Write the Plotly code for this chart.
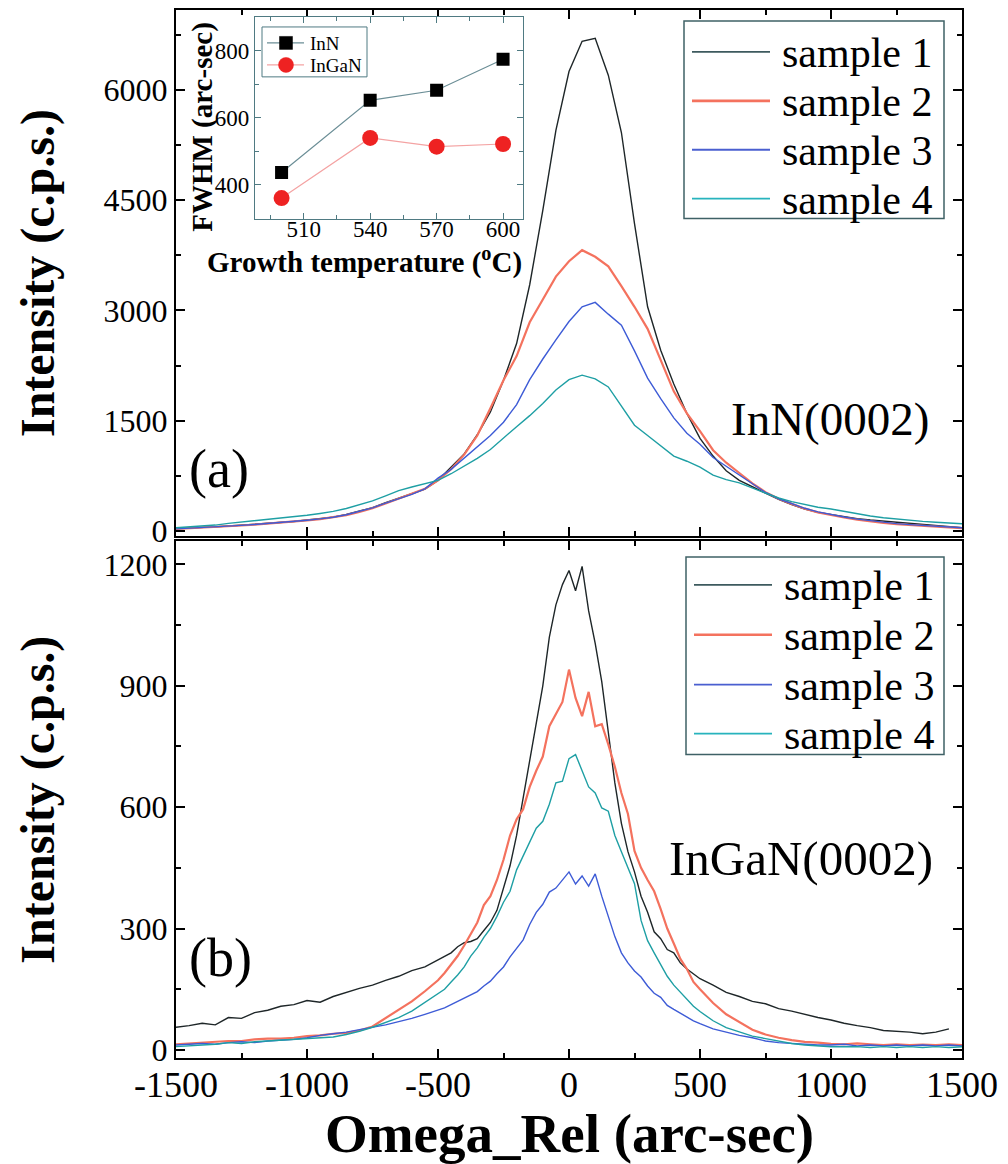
import plotly.graph_objects as go

SERIF = "Liberation Serif"

# ---------------- panel (a): InN(0002) ----------------
OMEGA_A = list(range(-1500, 1501, 50))
INN_S1 = [35, 40, 48, 58, 70, 80, 92, 105, 118, 130, 150, 168, 190, 225, 270, 320, 385, 445, 500, 570,
          690, 870, 1050, 1310, 1620, 2050, 2550, 3350, 4360, 5450, 6250, 6660, 6700, 6200, 5420, 4180,
          3050, 2460, 2000, 1600, 1260, 1020, 820, 690, 600, 510, 430, 360, 300, 255, 225, 195, 170, 150,
          135, 115, 100, 85, 70, 60, 45]
INN_S2 = [30, 38, 45, 55, 66, 76, 88, 100, 112, 126, 145, 162, 185, 218, 262, 312, 375, 440, 500, 575,
          690, 840, 1040, 1300, 1670, 2050, 2380, 2840, 3150, 3460, 3670, 3820, 3730, 3600, 3330, 3050,
          2750, 2320, 1900, 1600, 1360, 1100, 930, 790, 650, 530, 440, 370, 305, 255, 215, 185, 155, 130,
          112, 96, 82, 70, 60, 50, 40]
INN_S3 = [30, 38, 46, 56, 68, 78, 90, 102, 116, 130, 148, 166, 188, 222, 266, 316, 380, 442, 500, 575,
          720, 840, 990, 1150, 1300, 1480, 1720, 2060, 2340, 2600, 2850, 3050, 3110, 2950, 2800, 2450,
          2080, 1800, 1540, 1330, 1180, 1000, 880, 760, 640, 525, 440, 372, 310, 262, 225, 192, 162, 140,
          120, 102, 88, 76, 66, 56, 46]
INN_S4 = [45, 55, 68, 82, 105, 122, 140, 158, 178, 198, 215, 240, 268, 308, 360, 410, 480, 550, 600, 650,
          690, 780, 880, 990, 1110, 1270, 1420, 1570, 1735, 1920, 2060, 2120, 2070, 1960, 1700, 1440,
          1300, 1160, 1020, 950, 870, 760, 700, 655, 590, 520, 450, 400, 360, 325, 300, 265, 232, 205,
          182, 162, 145, 132, 120, 110, 100]

# ---------------- panel (b): InGaN(0002) ----------------
OMEGA_B = list(range(-1500, -499, 50)) + list(range(-475, 476, 25)) + list(range(500, 1501, 50))
INGAN_S1 = [56, 60, 66, 62, 80, 78, 92, 98, 108, 112, 122, 118, 132, 142, 152, 160, 172, 182, 196, 205, 222,
            232, 240, 255, 265, 268, 275, 295, 315, 345, 400, 455, 530, 620, 710, 800, 900, 1020, 1100, 1150,
            1185, 1135, 1195, 1085, 1005, 910, 790, 660, 560, 490, 440, 380, 340, 292, 275, 248, 240, 215, 200,
            188, 176, 160, 142, 132, 120, 114, 102, 96, 88, 80, 74, 66, 60, 55, 48, 46, 44, 40, 44, 52]
INGAN_S2 = [14, 16, 18, 20, 22, 22, 26, 28, 28, 30, 34, 36, 40, 42, 48, 58, 78, 100, 120, 145, 172,
            190, 210, 232, 258, 288, 315, 358, 380, 420, 470, 530, 570, 595, 650, 690, 725, 800, 832, 860,
            940, 870, 825, 885, 800, 805, 755, 700, 635, 583, 492, 450, 420, 392, 348, 300, 263, 225, 200,
            168, 150, 116, 88, 68, 50, 38, 30, 24, 20, 18, 15, 14, 16, 14, 12, 14, 12, 13, 12, 14, 12]
INGAN_S3 = [12, 14, 16, 14, 18, 20, 18, 22, 24, 26, 30, 36, 40, 44, 50, 56, 62, 70, 78, 88, 98,
            104, 112, 120, 128, 138, 144, 158, 170, 188, 205, 230, 250, 272, 310, 340, 360, 390, 400, 420,
            440, 410, 430, 405, 435, 380, 330, 280, 240, 215, 195, 180, 158, 140, 130, 110, 100, 90, 80,
            72, 65, 52, 44, 36, 30, 22, 18, 16, 14, 12, 12, 14, 10, 12, 10, 12, 10, 12, 10, 12, 10]
INGAN_S4 = [8, 10, 12, 14, 18, 16, 20, 22, 24, 26, 28, 30, 32, 38, 46, 56, 68, 80, 96, 118, 140,
            150, 168, 185, 205, 232, 252, 278, 300, 330, 365, 392, 445, 480, 516, 548, 565, 607, 660, 664,
            720, 730, 690, 650, 635, 598, 590, 530, 490, 450, 411, 320, 270, 240, 210, 182, 160, 142, 125,
            108, 95, 72, 55, 44, 34, 28, 22, 16, 12, 10, 8, 8, 8, 6, 8, 6, 8, 6, 8, 6, 8]

# ---------------- inset: FWHM vs growth temperature ----------------
TEMP = [500, 540, 570, 600]
FWHM_INN = [437, 652, 682, 774]
FWHM_INGAN = [361, 540, 514, 522]

X_TICKS = [-1500, -1000, -500, 0, 500, 1000, 1500]
X_TICK_LABELS = ["-1500", "-1000", "-500", "0", "500", "1000", "1500"]

SAMPLES = ["sample 1", "sample 2", "sample 3", "sample 4"]
COLORS = ["#1e2628", "#f4725e", "#3d5bd6", "#1e9fa4"]
LEGEND_COLORS = ["#3d5a5e", "#f4725e", "#4a5fd0", "#27b3bd"]
WIDTHS = [1.4, 2.2, 1.4, 1.4]
INSET_NAMES = ["InN", "InGaN"]
INSET_LINE = ["#6b8e96", "#f4a3a3"]
INSET_MARK = ["black", "#ee2222"]

# layout geometry (pixels of the 1008x1164 page)
L, R, T, B = 176, 46, 8, 106
PW, PH = 1008 - L - R, 1164 - T - B


def px(xp):
    return (xp - L) / PW


def py(yp):
    return (1164 - B - yp) / PH


fig = go.Figure()

for name, ys, c, w in zip(SAMPLES, [INN_S1, INN_S2, INN_S3, INN_S4], COLORS, WIDTHS):
    fig.add_trace(go.Scatter(x=OMEGA_A, y=ys, mode="lines", name=name, showlegend=False,
                             line=dict(color=c, width=w), xaxis="x2", yaxis="y2"))
for name, ys, c, w in zip(SAMPLES, [INGAN_S1, INGAN_S2, INGAN_S3, INGAN_S4], COLORS, WIDTHS):
    fig.add_trace(go.Scatter(x=OMEGA_B, y=ys, mode="lines", name=name, showlegend=False,
                             line=dict(color=c, width=w), xaxis="x", yaxis="y"))

fig.add_trace(go.Scatter(x=TEMP, y=FWHM_INN, mode="lines+markers", name="InN", showlegend=False,
                         line=dict(color=INSET_LINE[0], width=1.2),
                         marker=dict(symbol="square", size=13, color=INSET_MARK[0]),
                         xaxis="x3", yaxis="y3"))
fig.add_trace(go.Scatter(x=TEMP, y=FWHM_INGAN, mode="lines+markers", name="InGaN", showlegend=False,
                         line=dict(color=INSET_LINE[1], width=1.2),
                         marker=dict(symbol="circle", size=16, color=INSET_MARK[1]),
                         xaxis="x3", yaxis="y3"))


def frame(**kw):
    d = dict(showline=True, linecolor="black", linewidth=2, mirror="allticks",
             ticks="inside", ticklen=9, tickwidth=1.5, tickcolor="black",
             showgrid=False, zeroline=False,
             tickfont=dict(family=SERIF, size=32, color="black"))
    d.update(kw)
    return d


MINOR = dict(ticks="inside", ticklen=5, tickwidth=1.5, tickcolor="black", showgrid=False)
TITLE_Y = dict(family=SERIF, size=48, color="black", weight="bold")
INSET_C = "#4f7a82"

fig.update_layout(
    width=1008, height=1164,
    margin=dict(l=L, r=R, t=T, b=B),
    paper_bgcolor="white", plot_bgcolor="white",
    showlegend=False,
    xaxis=frame(domain=[0, 1], anchor="y", range=[-1500, 1500],
                tickvals=X_TICKS, ticktext=X_TICK_LABELS,
                tickfont=dict(family=SERIF, size=36, color="black"),
                ticklabelstandoff=-6,
                minor=dict(MINOR, tick0=-1500, dtick=250)),
    yaxis=frame(domain=[0, 0.493], anchor="x", range=[-20, 1257], tick0=0, dtick=300,
                minor=dict(MINOR, tick0=0, dtick=150),
                title=dict(text="Intensity (c.p.s.)", font=TITLE_Y, standoff=34)),
    xaxis2=frame(domain=[0, 1], anchor="y2", range=[-1500, 1500], tickvals=X_TICKS,
                 matches="x", showticklabels=False, minor=dict(MINOR, tick0=-1500, dtick=250)),
    yaxis2=frame(domain=[0.498, 1], anchor="x2", range=[-68, 7086], tick0=0, dtick=1500,
                 minor=dict(MINOR, tick0=0, dtick=750),
                 title=dict(text="Intensity (c.p.s.)", font=TITLE_Y, standoff=34)),
    xaxis3=dict(domain=[px(255), px(523)], anchor="y3", range=[488, 609],
                showline=True, linecolor=INSET_C, linewidth=1.2, mirror="allticks",
                ticks="inside", ticklen=6, tickwidth=1, tickcolor=INSET_C,
                tickvals=[510, 540, 570, 600], showgrid=False, zeroline=False,
                ticklabelstandoff=-10,
                minor=dict(ticks="inside", ticklen=4, tickwidth=1, tickcolor=INSET_C,
                           tickvals=[495, 525, 555, 585], showgrid=False),
                tickfont=dict(family=SERIF, size=23, color="black")),
    yaxis3=dict(domain=[py(217), py(15)], anchor="x3", range=[300, 900],
                showline=True, linecolor=INSET_C, linewidth=1.2, mirror="allticks",
                ticks="inside", ticklen=6, tickwidth=1, tickcolor=INSET_C,
                tick0=0, dtick=200, showgrid=False, zeroline=False,
                minor=dict(ticks="inside", ticklen=4, tickwidth=1, tickcolor=INSET_C,
                           tick0=0, dtick=100, showgrid=False),
                tickfont=dict(family=SERIF, size=23, color="black")),
)

# ---- legends for the two panels (box, line swatch, label) ----
shapes = []
annotations = []


def panel_legend(box, rows):
    x0, y0, x1, y1 = box
    shapes.append(dict(type="rect", xref="paper", yref="paper", layer="above",
                       x0=px(x0), x1=px(x1), y0=py(y1), y1=py(y0),
                       line=dict(color="#3f6166", width=1.5), fillcolor="white"))
    for name, col, w, ry in zip(SAMPLES, LEGEND_COLORS, WIDTHS, rows):
        shapes.append(dict(type="line", xref="paper", yref="paper", layer="above",
                           x0=px(x0 + 8), x1=px(x0 + 86), y0=py(ry), y1=py(ry),
                           line=dict(color=col, width=w + 0.4)))
        annotations.append(dict(xref="paper", yref="paper", x=px(x0 + 96), y=py(ry + 1),
                                xanchor="left", yanchor="middle", text=name, showarrow=False,
                                font=dict(family=SERIF, size=42, color="black")))


panel_legend((684, 19, 944, 217), [50, 99, 148, 197])
panel_legend((686, 556, 944, 754), [584, 634, 684, 733])

# ---- inset legend ----
shapes.append(dict(type="rect", xref="paper", yref="paper", layer="above",
                   x0=px(262), x1=px(367), y0=py(75), y1=py(25),
                   line=dict(color=INSET_C, width=1), fillcolor="white"))
for i, (name, lc, mc, ry) in enumerate(zip(INSET_NAMES, INSET_LINE, INSET_MARK, [41, 63])):
    shapes.append(dict(type="line", xref="paper", yref="paper", layer="above",
                       x0=px(267), x1=px(304), y0=py(ry), y1=py(ry),
                       line=dict(color=lc, width=1.2)))
    shapes.append(dict(type="rect" if i == 0 else "circle", xref="paper", yref="paper", layer="above",
                       xsizemode="pixel", ysizemode="pixel", xanchor=px(286), yanchor=py(ry),
                       x0=-6.5 if i == 0 else -7.5, x1=6.5 if i == 0 else 7.5,
                       y0=-6.5 if i == 0 else -7.5, y1=6.5 if i == 0 else 7.5,
                       line=dict(color=mc, width=0.5), fillcolor=mc))
    annotations.append(dict(xref="paper", yref="paper", x=px(308), y=py(ry + 1),
                            xanchor="left", yanchor="middle", text=name, showarrow=False,
                            font=dict(family=SERIF, size=19, color="black")))

# ---- axis titles drawn as text ----
annotations.append(dict(xref="paper", yref="paper", x=0.5, y=py(1134),
                        text="Omega_Rel (arc-sec)", showarrow=False,
                        xanchor="center", yanchor="middle",
                        font=dict(family=SERIF, size=55, color="black", weight="bold")))
annotations.append(dict(xref="paper", yref="paper", x=px(364), y=py(259),
                        text="Growth temperature (<sup>o</sup>C)", showarrow=False,
                        xanchor="center", yanchor="middle",
                        font=dict(family=SERIF, size=29, color="black", weight="bold")))
annotations.append(dict(xref="paper", yref="paper", x=px(203), y=py(125),
                        text="FWHM (arc-sec)", showarrow=False, textangle=-90,
                        xanchor="center", yanchor="middle",
                        font=dict(family=SERIF, size=29, color="black", weight="bold")))

# ---- panel labels ----
annotations += [
    dict(x=996, y=1520, xref="x2", yref="y2", text="InN(0002)", showarrow=False,
         font=dict(family=SERIF, size=47, color="black")),
    dict(x=-1336, y=841, xref="x2", yref="y2", text="(a)", showarrow=False,
         font=dict(family=SERIF, size=54, color="black")),
    dict(x=885, y=472, xref="x", yref="y", text="InGaN(0002)", showarrow=False,
         font=dict(family=SERIF, size=49, color="black")),
    dict(x=-1332, y=226, xref="x", yref="y", text="(b)", showarrow=False,
         font=dict(family=SERIF, size=54, color="black")),
]

fig.update_layout(shapes=shapes, annotations=annotations)

fig.write_html("out.html", config={"displayModeBar": False},
               post_script="document.body.style.margin='0px';")
